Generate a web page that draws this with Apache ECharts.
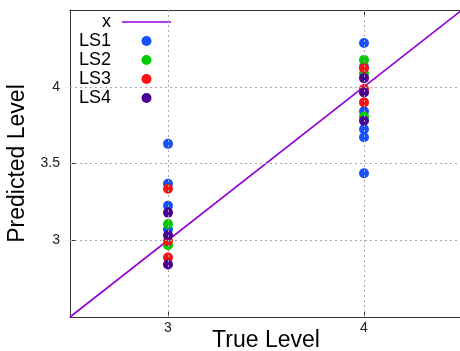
<!DOCTYPE html>
<html><head><meta charset="utf-8">
<script src="https://cdn.jsdelivr.net/npm/echarts@6/dist/echarts.min.js"></script>
<style>html,body{margin:0;padding:0;background:#fff}#c{width:460px;height:351px}</style>
</head><body><div id="c"></div>
<script>
const xTicks = [3, 4];
const yTicks = [3, 3.5, 4];
const identityX = [2.5, 4.5];
const ls1 = [[3,3.628],[3,3.368],[3,3.224],[3,3.072],[4,4.285],[4,4.13],[4,3.84],[4,3.723],[4,3.671],[4,3.437]];
const ls2 = [[3,3.106],[3,2.968],[4,4.175],[4,4.085],[4,3.805]];
const ls3 = [[3,3.336],[3,2.995],[3,2.887],[4,4.12],[4,3.985],[4,3.898]];
const ls4 = [[3,3.18],[3,3.032],[3,2.842],[4,4.056],[4,3.962],[4,3.779]];
const colors = {x:'#9400d3', LS1:'#1550ff', LS2:'#00cc00', LS3:'#ff1010', LS4:'#4b0096'};

const font = 'Liberation Sans, Arial, sans-serif';
const chart = echarts.init(document.getElementById('c'));
const sym = 10;
function scatter(name, data){
  return {name, type:'scatter', data, symbolSize:sym, itemStyle:{color:colors[name], opacity:1}, z:3};
}
chart.setOption({
  animation:false,
  grid:{left:70, top:10, right:-2, bottom:34, containLabel:false, outerBoundsMode:'none'},
  legend:{
    left:71, top:11, orient:'vertical', align:'right',
    backgroundColor:'#fff', padding:[2,10,4,4],
    itemWidth:49, itemHeight:10, itemGap:1,
    formatter: n => '{a|' + n + '}',
    textStyle:{fontFamily:font, fontSize:18, color:'#000',
      rich:{a:{width:36, align:'right', fontSize:18, lineHeight:18, fontFamily:font, color:'#000', padding:[0,6,0,0]}}},
    data:[{name:'x', icon:'path://M0,0L49,0L49,1.6L0,1.6Z'},{name:'LS1',icon:'circle'},{name:'LS2',icon:'circle'},{name:'LS3',icon:'circle'},{name:'LS4',icon:'circle'}]
  },
  xAxis:[{
    type:'value', min:2.5, max:4.5, interval:0.5,
    name:'True Level', nameLocation:'middle', nameGap:24, nameMoveOverlap:false,
    nameTextStyle:{fontFamily:font, fontSize:23, color:'#000', verticalAlign:'middle'},
    axisLine:{show:true, lineStyle:{color:'#333', width:1}},
    axisTick:{show:true, inside:true, length:5, customValues:xTicks, lineStyle:{color:'#333'}},
    axisLabel:{customValues:xTicks, fontFamily:font, fontSize:14, color:'#222', margin:4},
    splitLine:{show:false}
  },{
    type:'value', position:'top', min:2.5, max:4.5, interval:0.5,
    axisLine:{show:true, onZero:false, lineStyle:{color:'#333', width:1}},
    axisTick:{show:true, inside:true, length:5, customValues:xTicks, lineStyle:{color:'#333'}},
    axisLabel:{show:false}, splitLine:{show:false}
  }],
  yAxis:{
    type:'value', min:2.5, max:4.5, interval:0.5,
    name:'Predicted Level', nameLocation:'middle', nameGap:52, nameRotate:90, nameMoveOverlap:false,
    nameTextStyle:{fontFamily:font, fontSize:23, color:'#000', verticalAlign:'middle'},
    axisLine:{show:true, lineStyle:{color:'#333', width:1}},
    axisTick:{show:true, inside:true, length:5, customValues:yTicks, lineStyle:{color:'#333'}},
    axisLabel:{customValues:yTicks, fontFamily:font, fontSize:14, color:'#222', margin:10},
    splitLine:{show:false}
  },
  series:[
    {name:'grid', type:'line', data:[], silent:true, z:1,
      markLine:{silent:true, symbol:'none', label:{show:false},
        lineStyle:{color:'#aaa', type:[2,3], width:1},
        data: xTicks.map(v=>({xAxis:v})).concat(yTicks.map(v=>({yAxis:v})))}},
    {name:'x', type:'line', data:identityX.map(v=>[v,v]), showSymbol:false, symbol:'none',
      lineStyle:{color:colors.x, width:1.6}, itemStyle:{color:colors.x}, z:2},
    scatter('LS1', ls1), scatter('LS2', ls2), scatter('LS3', ls3), scatter('LS4', ls4)
  ]
});
</script></body></html>
